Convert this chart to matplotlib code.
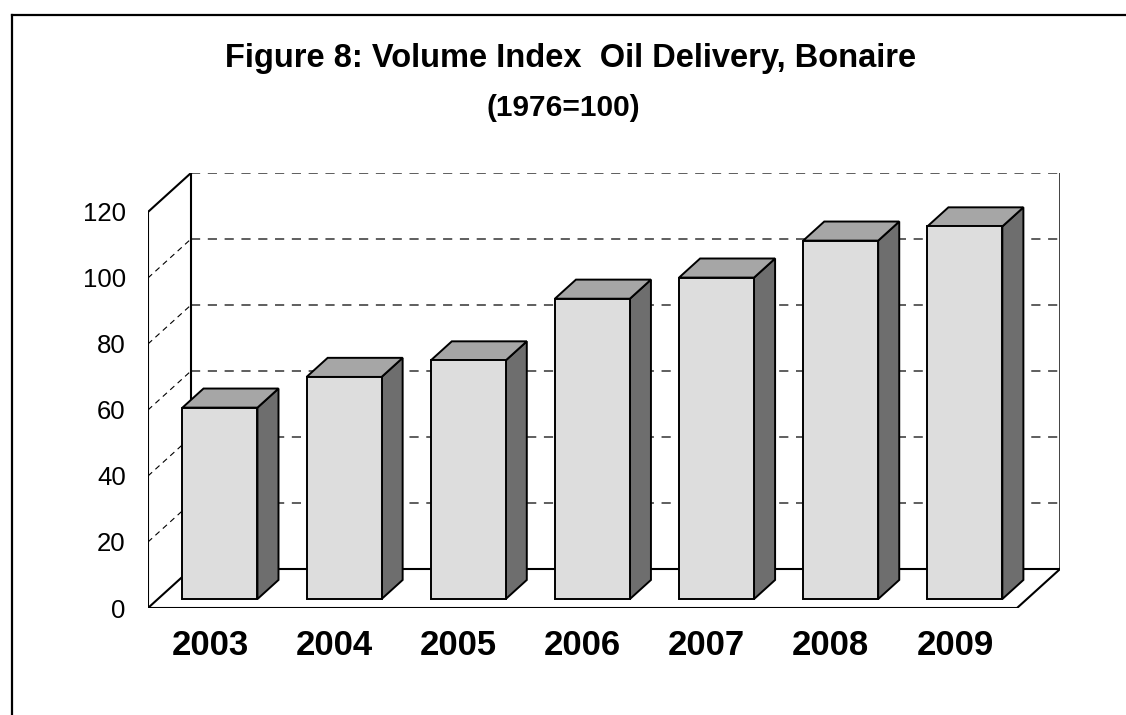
import matplotlib.pyplot as plt
from matplotlib.patches import Polygon
from matplotlib.lines import Line2D

plt.rcParams['font.family'] = ['Liberation Sans', 'DejaVu Sans']

# data
years = ['2003', '2004', '2005', '2006', '2007', '2008', '2009']
volume_index = [58.0, 67.3, 72.3, 91.0, 97.4, 108.6, 112.9]
y_ticks = [0, 20, 40, 60, 80, 100, 120]

W, H = 1126, 715
fig = plt.figure(figsize=(W / 100, H / 100), dpi=100)

# 3D look: depth offset of the back wall, in data units
DX = 0.346   # categories
DY = 11.8    # index points
YMAX = 120
n = len(years)

# axes = front plane + depth
ax = fig.add_axes([148 / W, 1 - 608 / H, (1060 - 148) / W, (608 - 173) / H])
ax.set_xlim(-0.5, n - 0.5 + DX)
ax.set_ylim(0, YMAX + DY)
for s in ax.spines.values():
    s.set_visible(False)
ax.patch.set_visible(False)

x0, x1 = -0.5, n - 0.5
line_kw = dict(color='black', lw=1.5, zorder=2)

# back wall gridlines + side wall diagonals
for t in y_ticks[1:]:
    ax.plot([x0 + DX, x1 + DX], [t + DY, t + DY], color='#333333', lw=1.1,
            ls=(0, (6, 5)), zorder=1)
    if t < YMAX:
        ax.plot([x0, x0 + DX], [t, t + DY], color='black', lw=0.8,
                ls=(0, (5, 4)), zorder=1)

# walls and floor outline
ax.plot([x0, x0], [0, YMAX], **line_kw)
ax.plot([x0, x0 + DX], [YMAX, YMAX + DY], **line_kw)
ax.plot([x0, x0 + DX], [0, DY], **line_kw)
ax.plot([x0 + DX, x0 + DX], [DY, YMAX + DY], **line_kw)
ax.plot([x1 + DX, x1 + DX], [DY, YMAX + DY], color='#333333', lw=1.3, zorder=1)
ax.plot([x0 + DX, x1 + DX], [DY, DY], **line_kw)
ax.plot([x0, x1], [0, 0], **line_kw)
ax.plot([x1, x1 + DX], [0, DY], **line_kw)

# bars
bw = 0.604
f0, f1 = 0.23, 0.72
for i, v in enumerate(volume_index):
    xl = i - bw / 2 + f0 * DX
    xr = xl + bw
    yb = f0 * DY
    ddx = (f1 - f0) * DX
    ddy = (f1 - f0) * DY
    front = [(xl, yb), (xr, yb), (xr, yb + v), (xl, yb + v)]
    top = [(xl, yb + v), (xr, yb + v), (xr + ddx, yb + v + ddy), (xl + ddx, yb + v + ddy)]
    side = [(xr, yb), (xr + ddx, yb + ddy), (xr + ddx, yb + v + ddy), (xr, yb + v)]
    for pts, fc in [(side, '#6e6e6e'), (top, '#a6a6a6'), (front, '#dddddd')]:
        ax.add_patch(Polygon(pts, closed=True, facecolor=fc, edgecolor='black',
                             lw=1.4, joinstyle='miter', zorder=3))

# ticks
ax.set_yticks(y_ticks)
ax.set_yticklabels([str(t) for t in y_ticks], fontsize=18.5)
ax.set_xticks(range(n))
ax.set_xticklabels(years, fontsize=25, fontweight='bold')
ax.tick_params(axis='y', length=0, pad=16)
ax.tick_params(axis='x', length=0, pad=15)

# titles
fig.text(571 / W, 1 - 58 / H, 'Figure 8: Volume Index  Oil Delivery, Bonaire',
         ha='center', va='center', fontsize=23.5, fontweight='bold')
fig.text(563 / W, 1 - 108 / H, '(1976=100)', ha='center', va='center',
         fontsize=21.5, fontweight='bold')

# chart border (top and left visible)
fig.add_artist(Line2D([12 / W, 1.0], [1 - 15 / H, 1 - 15 / H], color='black', lw=1.6))
fig.add_artist(Line2D([12 / W, 12 / W], [1 - 15 / H, 0.0], color='black', lw=1.6))

fig.savefig('out.png', dpi=100, facecolor='white')
